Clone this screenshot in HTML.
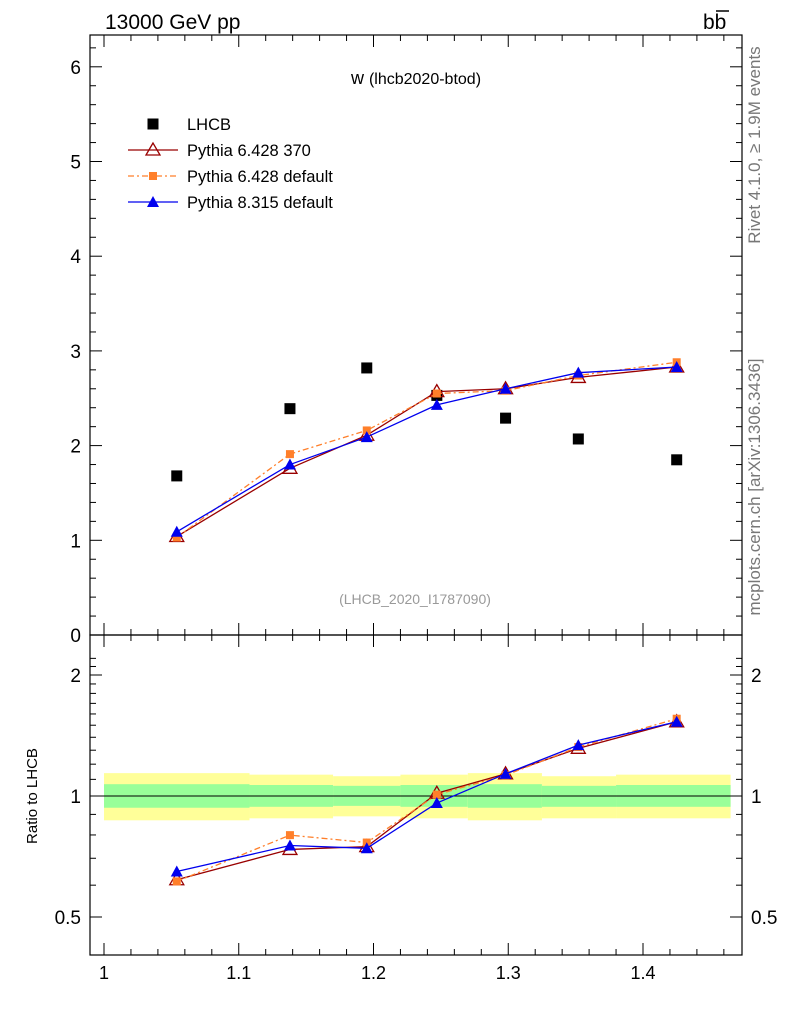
<!DOCTYPE html>
<html><head><meta charset="utf-8"><style>
body{margin:0;background:#fff;}
svg text{font-family:"Liberation Sans",sans-serif;}
</style></head><body>
<svg id="c" width="786" height="1024" xmlns="http://www.w3.org/2000/svg">
<text x="105" y="29" font-size="21">13000 GeV pp</text>
<text x="703" y="29" font-size="21">bb</text>
<line x1="716" y1="11" x2="729" y2="11" stroke="#000" stroke-width="1.5"/>
<text transform="translate(760,145) rotate(-90)" font-size="17" fill="#777" text-anchor="middle">Rivet 4.1.0, ≥ 1.9M events</text>
<text transform="translate(760,487) rotate(-90)" font-size="17" fill="#777" text-anchor="middle">mcplots.cern.ch [arXiv:1306.3436]</text>
<text x="416" y="84" font-size="18" text-anchor="middle">w <tspan font-size="16">(lhcb2020-btod)</tspan></text>
<text x="415" y="604" font-size="14" fill="#999" text-anchor="middle">(LHCB_2020_I1787090)</text>
<text transform="translate(37,796) rotate(-90)" font-size="15" text-anchor="middle">Ratio to LHCB</text>
<g id="bands"></g><g id="axes"></g><g id="marks"></g><g id="legend"></g>
</svg>
<script>
const xVals=[1.054,1.138,1.195,1.247,1.298,1.352,1.425];
const dataVals=[1.68,2.39,2.82,2.53,2.29,2.07,1.85];
const p6_370=[1.04,1.76,2.11,2.57,2.60,2.72,2.83];
const p6_def=[1.03,1.91,2.16,2.55,2.58,2.74,2.88];
const p8_def=[1.09,1.80,2.09,2.43,2.60,2.77,2.83];
const binEdges=[1.0,1.108,1.17,1.22,1.27,1.325,1.38,1.465];
const yellowUp=[1.14,1.13,1.12,1.13,1.14,1.12,1.13];
const yellowDn=[0.87,0.88,0.89,0.88,0.87,0.88,0.88];
const greenUp=[1.07,1.065,1.06,1.065,1.07,1.06,1.065];
const greenDn=[0.935,0.94,0.945,0.94,0.935,0.94,0.94];
const xTicks=[1,1.1,1.2,1.3,1.4];
const xTickLabels=["1","1.1","1.2","1.3","1.4"];
const yTicks=[0,1,2,3,4,5,6];
const rTicks=[0.5,1,2];
const rTickLabels=["0.5","1","2"];

const NS="http://www.w3.org/2000/svg";
const L=90,R=742,T=35,MB=635,RB=955;
const X=v=>104+(v-1)*1347.5;
const Y=v=>635-v*94.7;
const RY=v=>796-121*Math.log2(v);
function mk(p,tag,a){const e=document.createElementNS(NS,tag);for(const k in a)e.setAttribute(k,a[k]);document.getElementById(p).appendChild(e);return e;}

for(let i=0;i<7;i++){
 let e=mk('bands','rect',{x:X(binEdges[i]),y:RY(yellowUp[i]),width:X(binEdges[i+1])-X(binEdges[i]),height:RY(yellowDn[i])-RY(yellowUp[i]),fill:'#ffff99'});
 
 
 e=mk('bands','rect',{x:X(binEdges[i]),y:RY(greenUp[i]),width:X(binEdges[i+1])-X(binEdges[i]),height:RY(greenDn[i])-RY(greenUp[i]),fill:'#99ff99'});
 
 
}
mk('bands','line',{x1:L,x2:R,y1:RY(1),y2:RY(1),stroke:'#000','stroke-width':1});

let f=mk('axes','rect',{x:L,y:T,width:R-L,height:MB-T,fill:'none',stroke:'#000','stroke-width':1.2});

f=mk('axes','rect',{x:L,y:MB,width:R-L,height:RB-MB,fill:'none',stroke:'#000','stroke-width':1.2});


for(let v=0.98;v<=1.47;v+=0.02){const vv=Math.round(v*100)/100;const maj=Math.abs(vv*10-Math.round(vv*10))<1e-6;const px=X(vv);if(px<L||px>R)continue;const s=maj?12:6;
 [[T,1],[MB,-1],[MB,1],[RB,-1]].forEach(([y,d])=>mk('axes','line',{x1:px,x2:px,y1:y,y2:y+d*s,stroke:'#000'}));}
xTicks.forEach((v,i)=>{const t=mk('axes','text',{x:X(v),y:979,'font-size':18,'text-anchor':'middle'});t.textContent=xTickLabels[i];
 });
for(let v=0;v<=6.3;v+=0.2){const vv=Math.round(v*10)/10;const maj=Math.abs(vv-Math.round(vv))<1e-6;const py=Y(vv);const s=maj?12:6;
 mk('axes','line',{x1:L,x2:L+s,y1:py,y2:py,stroke:'#000'});mk('axes','line',{x1:R,x2:R-s,y1:py,y2:py,stroke:'#000'});}
yTicks.forEach(v=>{const t=mk('axes','text',{x:81,y:Y(v)+7,'font-size':19,'text-anchor':'end'});t.textContent=v;
 });
for(let v=0.4;v<=2.3;v+=0.1){const vv=Math.round(v*10)/10;const py=RY(vv);if(py<MB||py>RB)continue;const maj=rTicks.includes(vv);const s=maj?12:6;
 mk('axes','line',{x1:L,x2:L+s,y1:py,y2:py,stroke:'#000'});mk('axes','line',{x1:R,x2:R-s,y1:py,y2:py,stroke:'#000'});}
rTicks.forEach((v,i)=>{[[81,'end'],[751,'start']].forEach(([x,a])=>{const t=mk('axes','text',{x:x,y:RY(v)+7,'font-size':19,'text-anchor':a});t.textContent=rTickLabels[i];
 });});

const series=[
 {v:p6_370,c:'#990000',dash:'',m:'tri-open',n:'pythia6-370'},
 {v:p6_def,c:'#ff7f2a',dash:'6,3,2,3',m:'sq-small',n:'pythia6-default'},
 {v:p8_def,c:'#0000ee',dash:'',m:'tri',n:'pythia8-default'}];
function marker(g,type,x,y,c){
 if(type==='tri-open')return mk(g,'polygon',{points:`${x},${y-7} ${x-7},${y+5} ${x+7},${y+5}`,fill:'none',stroke:c,'stroke-width':1.3});
 if(type==='tri')return mk(g,'polygon',{points:`${x},${y-6} ${x-6},${y+5} ${x+6},${y+5}`,fill:c});
 if(type==='sq-small')return mk(g,'rect',{x:x-4,y:y-4,width:8,height:8,fill:c});
 return mk(g,'rect',{x:x-5.5,y:y-5.5,width:11,height:11,fill:c});
}
xVals.forEach((x,i)=>{const m=marker('marks','sq',X(x),Y(dataVals[i]),'#000');
 });
series.forEach(s=>{
 let p=mk('marks','polyline',{points:xVals.map((x,i)=>X(x)+','+Y(s.v[i])).join(' '),fill:'none',stroke:s.c,'stroke-width':1.3,'stroke-dasharray':s.dash});
 
 p=mk('marks','polyline',{points:xVals.map((x,i)=>X(x)+','+RY(s.v[i]/dataVals[i])).join(' '),fill:'none',stroke:s.c,'stroke-width':1.3,'stroke-dasharray':s.dash});
 
 xVals.forEach((x,i)=>{let m=marker('marks',s.m,X(x),Y(s.v[i]),s.c);
  
  m=marker('marks',s.m,X(x),RY(s.v[i]/dataVals[i]),s.c);
  });
});

const legNames=['LHCB','Pythia 6.428 370','Pythia 6.428 default','Pythia 8.315 default'];
legNames.forEach((n,i)=>{const y=124+i*26;
 if(i===0){marker('legend','sq',153,y,'#000');}
 else{const s=series[i-1];mk('legend','line',{x1:128,x2:178,y1:y,y2:y,stroke:s.c,'stroke-width':1.3,'stroke-dasharray':s.dash});marker('legend',s.m,153,y,s.c);}
 const t=mk('legend','text',{x:187,y:y+6,'font-size':16.5});t.textContent=n;
 });
</script>
</body></html>
